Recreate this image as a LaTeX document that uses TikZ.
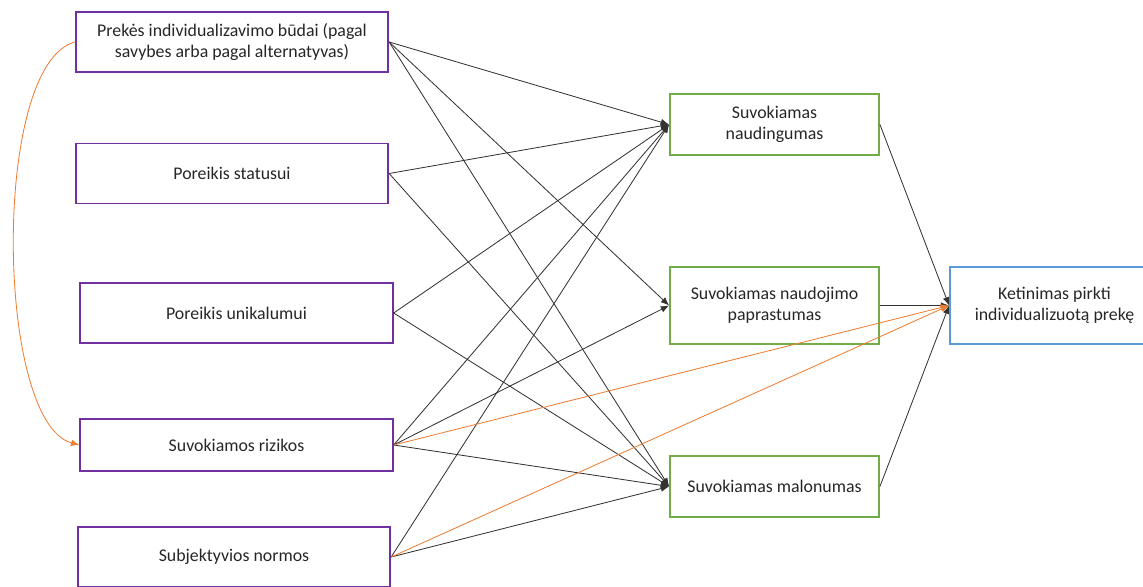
\documentclass[tikz,border=0pt]{standalone}
\usepackage{fontspec}
\setmainfont{Carlito}
\usetikzlibrary{arrows.meta}

\definecolor{boxpurple}{HTML}{7030A0}
\definecolor{boxgreen}{HTML}{70AD47}
\definecolor{boxblue}{HTML}{5B9BD5}
\definecolor{linkorange}{HTML}{ED7D31}

\tikzset{
  factor/.style={draw=boxpurple,line width=1.1pt,minimum width=187.5pt,minimum height=36pt,align=center,inner sep=2pt},
  mediator/.style={draw=boxgreen,line width=1.1pt,minimum width=125.4pt,minimum height=36.6pt,align=center,inner sep=2pt},
  outcome/.style={draw=boxblue,line width=1.1pt,minimum width=125.4pt,minimum height=46.2pt,align=center,inner sep=2pt},
  link/.style={->,draw=black!80,line width=0.5pt},
  orlink/.style={->,draw=linkorange,line width=0.5pt}
}

\begin{document}
\begin{tikzpicture}[x=0.6pt,y=-0.6pt,>={Latex[length=5pt,width=4pt]},
  every node/.style={font=\fontsize{10.7}{12.6}\selectfont,text=black!85}]
\useasboundingbox (0,0) rectangle (1143,586);

\node[factor] (budai) at (232,42) {Prekės individualizavimo būdai (pagal\\savybes arba pagal alternatyvas)};
\node[factor] (statusas) at (232,173.5) {Poreikis statusui};
\node[factor] (unikalumas) at (236.5,313) {Poreikis unikalumui};
\node[factor,minimum height=31.2pt] (rizikos) at (236.5,445) {Suvokiamos rizikos};
\node[factor] (normos) at (234,557) {Subjektyvios normos};

\node[mediator] (naudingumas) at (774.5,124.5) {Suvokiamas\\naudingumas};
\node[mediator,minimum height=46.2pt] (paprastumas) at (774.5,305.5) {Suvokiamas naudojimo\\paprastumas};
\node[mediator] (malonumas) at (774.5,486.5) {Suvokiamas malonumas};

\node[outcome] (ketinimas) at (1054.5,305.5) {Ketinimas pirkti\\individualizuotą prekę};

\draw[link] (budai.east) -- (naudingumas.west);
\draw[link] (budai.east) -- (paprastumas.west);
\draw[link] (budai.east) -- (malonumas.west);
\draw[link] (statusas.east) -- (naudingumas.west);
\draw[link] (statusas.east) -- (malonumas.west);
\draw[link] (unikalumas.east) -- (naudingumas.west);
\draw[link] (unikalumas.east) -- (malonumas.west);
\draw[link] (rizikos.east) -- (naudingumas.west);
\draw[link] (rizikos.east) -- (paprastumas.west);
\draw[link] (rizikos.east) -- (malonumas.west);
\draw[link] (normos.east) -- (naudingumas.west);
\draw[link] (normos.east) -- (malonumas.west);

\draw[link] (naudingumas.east) -- (ketinimas.west);
\draw[link] (paprastumas.east) -- (ketinimas.west);
\draw[link] (malonumas.east) -- (ketinimas.west);

\draw[orlink] (rizikos.east) -- (ketinimas.west);
\draw[orlink] (normos.east) -- (ketinimas.west);
\draw[orlink] (budai.west) to[out=195,in=165,looseness=0.55] (rizikos.west);
\end{tikzpicture}
\end{document}
